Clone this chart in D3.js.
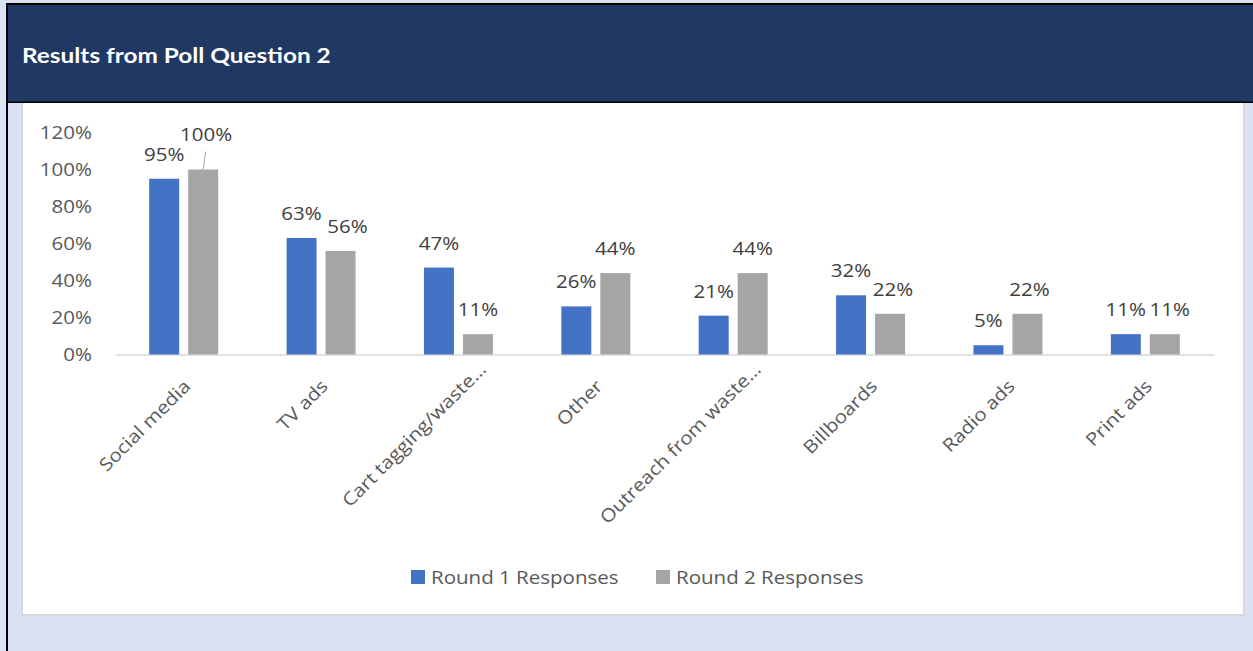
<!DOCTYPE html>
<html>
<head>
<meta charset="utf-8">
<script src="https://cdn.jsdelivr.net/npm/d3@7"></script>
<style>
  html, body { margin: 0; padding: 0; background: #dae3f3; }
  svg { display: block; }
</style>
</head>
<body>
<svg id="chart" width="1253" height="651"></svg>
<script>
// Poll question 2 — share of respondents per outreach channel, two rounds
const categories = [
  "Social media", "TV ads", "Cart tagging/waste\u2026", "Other",
  "Outreach from waste\u2026", "Billboards", "Radio ads", "Print ads"
];
const round1 = [0.95, 0.63, 0.47, 0.26, 0.21, 0.32, 0.05, 0.11];
const round2 = [1.00, 0.56, 0.11, 0.44, 0.44, 0.22, 0.22, 0.11];
const seriesNames = ["Round 1 Responses", "Round 2 Responses"];
const yTicks = [0, 0.2, 0.4, 0.6, 0.8, 1.0, 1.2];
const titleText = "Results from Poll Question 2";

const colors = { "Round 1 Responses": "#4472c4", "Round 2 Responses": "#a5a5a5" };
const SX = 1.14;            // horizontal stretch of the text glyphs
const FONT = "'Open Sans', 'Noto Sans', sans-serif";

const svg = d3.select("#chart");

// page frame
svg.append("rect").attr("x", 0).attr("y", 0).attr("width", 1253).attr("height", 651).attr("fill", "#dae3f3");
svg.append("rect").attr("x", 6).attr("y", 3).attr("width", 1247).attr("height", 100).attr("fill", "#000");
svg.append("rect").attr("x", 8).attr("y", 5).attr("width", 1245).attr("height", 96.5).attr("fill", "#203864");
svg.append("rect").attr("x", 6).attr("y", 3).attr("width", 2).attr("height", 648).attr("fill", "#000");

svg.append("text")
  .attr("transform", "translate(22,63) scale(1.16,1)")
  .attr("fill", "#ffffff")
  .attr("font-family", "Lato, 'Open Sans', sans-serif")
  .attr("font-weight", 700)
  .attr("font-size", 21)
  .text(titleText);

// chart card
svg.append("rect").attr("x", 21).attr("y", 103).attr("width", 1224).attr("height", 513).attr("fill", "#d9d9d9");
svg.append("rect").attr("x", 23).attr("y", 103).attr("width", 1220).attr("height", 511).attr("fill", "#ffffff");

// scales
const x0 = d3.scaleBand().domain(categories).range([115, 1214]);
const x1 = d3.scaleBand().domain(seriesNames).range([0, x0.bandwidth()])
  .paddingInner(0.2308).paddingOuter(0.877);
const y = d3.scaleLinear().domain([0, 1.2]).range([354.5, 132.5]);
const pct = d3.format(".0%");

// y axis (labels only)
const yAxis = svg.append("g")
  .attr("transform", "translate(92,0)")
  .call(d3.axisLeft(y).tickValues(yTicks).tickFormat(pct).tickSize(0).tickPadding(0));
yAxis.select(".domain").remove();
yAxis.selectAll("text")
  .attr("font-family", FONT).attr("font-size", 18).attr("fill", "#595959")
  .attr("x", null).attr("dy", "0.35em")
  .attr("transform", `scale(${SX},1)`);

// x axis with slanted category names; shortened names sit further up the slope
const xAxis = svg.append("g")
  .attr("transform", "translate(0,354.5)")
  .call(d3.axisBottom(x0).tickSize(0).tickPadding(0));
xAxis.select(".domain").attr("stroke", "#d9d9d9").attr("stroke-width", 1.6);
xAxis.selectAll(".tick text")
  .attr("font-family", FONT).attr("font-size", 18).attr("fill", "#595959")
  .attr("text-anchor", "end").attr("dy", null).attr("y", null)
  .attr("dominant-baseline", "central")
  .attr("transform", d => {
    const trimmed = d.endsWith("\u2026");
    const dx = trimmed ? 24 : 3;
    const dy = trimmed ? 11 : 28;
    return `translate(${dx},${dy}) rotate(-45) scale(${SX},1)`;
  });

// bars
const rows = categories.map((c, i) => ({
  category: c,
  values: [
    { series: seriesNames[0], value: round1[i] },
    { series: seriesNames[1], value: round2[i] }
  ]
}));

const groups = svg.append("g").selectAll("g")
  .data(rows).join("g")
  .attr("transform", d => `translate(${x0(d.category)},0)`);

groups.selectAll("rect")
  .data(d => d.values).join("rect")
  .attr("x", d => x1(d.series))
  .attr("y", d => y(d.value))
  .attr("width", x1.bandwidth())
  .attr("height", d => y(0) - y(d.value))
  .attr("fill", d => colors[d.series]);

// value labels; crowded second-round labels are eased right, and the tallest
// one is lifted clear of its neighbour with a leader line
const easeRight = { "TV ads": 7, "Billboards": 3, "Radio ads": 2, "Print ads": 5 };
groups.each(function (row) {
  const g = d3.select(this);
  row.values.forEach(v => {
    const cx = x1(v.series) + x1.bandwidth() / 2;
    const top = y(v.value);
    let lx = cx, ly = top - 18;
    if (v.series === seriesNames[1]) lx += easeRight[row.category] || 0;
    if (row.category === "Social media" && v.series === seriesNames[1]) {
      lx = cx + 3; ly = top - 29;
      g.append("line")
        .attr("x1", cx).attr("y1", top)
        .attr("x2", cx + 2.5).attr("y2", top - 18)
        .attr("stroke", "#a6a6a6").attr("stroke-width", 1);
    }
    g.append("text")
      .attr("transform", `translate(${lx},${ly}) scale(${SX},1)`)
      .attr("text-anchor", "middle")
      .attr("font-family", FONT).attr("font-size", 18).attr("fill", "#404040")
      .text(pct(v.value));
  });
});

// legend
const legend = svg.append("g").selectAll("g")
  .data(seriesNames).join("g")
  .attr("transform", (d, i) => `translate(${i === 0 ? 411 : 656},570)`);
legend.append("rect").attr("width", 14).attr("height", 14).attr("fill", d => colors[d]);
legend.append("text")
  .attr("transform", `translate(20,13.5) scale(${SX},1)`)
  .attr("font-family", FONT).attr("font-size", 18).attr("fill", "#595959")
  .text(d => d);
</script>
</body>
</html>
